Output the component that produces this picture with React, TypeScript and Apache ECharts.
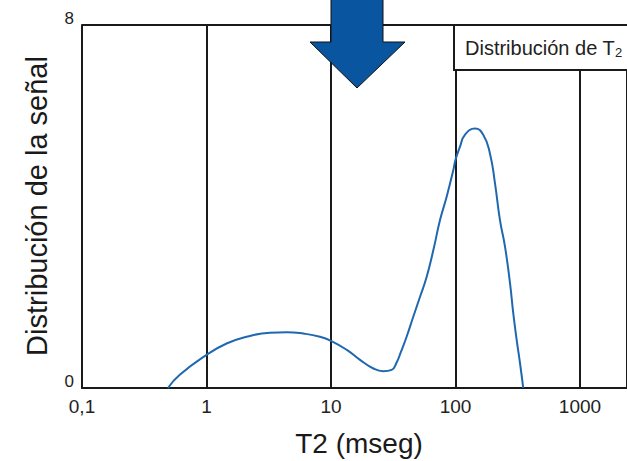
import React, { useEffect, useRef } from "react";
import * as echarts from "echarts";

const t2Values = [0.49, 0.61, 1.0, 1.45, 2.1, 3.24, 4.41, 6.0, 8.16, 10, 13.4, 17.1, 21.9, 26.3, 30.7, 33.5, 36.5, 40.5, 45.8, 51.9, 58.7, 66.4, 75.1, 85, 96, 100, 108.7, 119, 143.5, 167, 189, 207.6, 227.6, 250, 274, 291, 310, 330, 350];
const signalValues = [0, 0.29, 0.73, 0.98, 1.13, 1.22, 1.23, 1.2, 1.13, 1.04, 0.84, 0.62, 0.43, 0.37, 0.4, 0.55, 0.8, 1.13, 1.57, 2.01, 2.45, 3.04, 3.7, 4.22, 4.8, 5.03, 5.32, 5.58, 5.72, 5.58, 5.17, 4.51, 3.7, 3.11, 2.31, 1.65, 1.06, 0.54, 0];
const xMin = 0.1;
const xMax = 2385;
const yMin = 0;
const yMax = 8;
const xTitle = "T2 (mseg)";
const yTitle = "Distribución de la señal";
const legendText = "Distribución de T";

const FONT = "'Liberation Sans', Arial, sans-serif";

export default function App() {
  const ref = useRef<HTMLDivElement>(null);
  useEffect(() => {
    if (!ref.current) return;
    const chart = echarts.init(ref.current, null, { renderer: "svg" });
    const data = t2Values.map((t, i) => [t, signalValues[i]]);
    chart.setOption({
      animation: false,
      backgroundColor: "#ffffff",
      grid: { left: 82, top: 25, right: 0, height: 363 },
      xAxis: {
        type: "log",
        logBase: 10,
        min: xMin,
        max: xMax,
        axisLine: { show: true, lineStyle: { color: "#1a1a1a", width: 2 } },
        axisTick: { show: false },
        splitLine: { show: true, lineStyle: { color: "#1a1a1a", width: 2 } },
        axisLabel: {
          show: true,
          showMinLabel: true,
          showMaxLabel: false,
          fontFamily: FONT,
          fontSize: 19,
          color: "#222",
          margin: 9,
          formatter: (v: number) => {
            const r = Math.round(v * 10) / 10;
            return r < 1 ? String(r).replace(".", ",") : String(Math.round(r));
          },
        },
      },
      yAxis: {
        type: "value",
        min: yMin,
        max: yMax,
        interval: 8,
        axisLine: { show: true, lineStyle: { color: "#1a1a1a", width: 2 } },
        axisTick: { show: false },
        splitLine: { show: true, lineStyle: { color: "#1a1a1a", width: 2 } },
        axisLabel: {
          fontFamily: FONT,
          fontSize: 17,
          color: "#222",
          margin: 8,
          verticalAlign: "bottom",
          lineHeight: 14,
        },
      },
      series: [
        {
          type: "line",
          data,
          smooth: 0.5,
          showSymbol: false,
          lineStyle: { color: "#1f68b0", width: 2 },
        },
      ],
      graphic: [
        {
          type: "text",
          x: 359,
          y: 443,
          z: 100,
          style: {
            text: xTitle,
            font: `28px ${FONT}`,
            fill: "#1a1a1a",
            textAlign: "center",
            textVerticalAlign: "middle",
          },
        },
        {
          type: "text",
          x: 37,
          y: 206,
          rotation: Math.PI / 2,
          z: 100,
          style: {
            text: yTitle,
            font: `29px ${FONT}`,
            fill: "#1a1a1a",
            textAlign: "center",
            textVerticalAlign: "middle",
          },
        },
        {
          type: "rect",
          z: 100,
          shape: { x: 454, y: 25, width: 220, height: 45 },
          style: { fill: "#ffffff", stroke: "#1a1a1a", lineWidth: 2 },
        },
        {
          type: "text",
          x: 465,
          y: 48,
          z: 101,
          style: {
            text: `{m|${legendText}}{s|2}`,
            textVerticalAlign: "middle",
            rich: {
              m: { fontFamily: FONT, fontSize: 20, fill: "#222" },
              s: { fontFamily: FONT, fontSize: 13, fill: "#222", padding: [9, 0, 0, 0] },
            },
          },
        },
        {
          type: "polygon",
          z: 102,
          shape: {
            points: [
              [331, -2],
              [383, -2],
              [383, 42],
              [405, 42],
              [357, 88],
              [310, 42],
              [331, 42],
            ],
          },
          style: { fill: "#0a559f", stroke: "#111", lineWidth: 1 },
        },
      ],
    });
    return () => chart.dispose();
  }, []);
  return (
    <div
      ref={ref}
      style={{ position: "absolute", left: 0, top: 0, width: 627, height: 461 }}
    />
  );
}
